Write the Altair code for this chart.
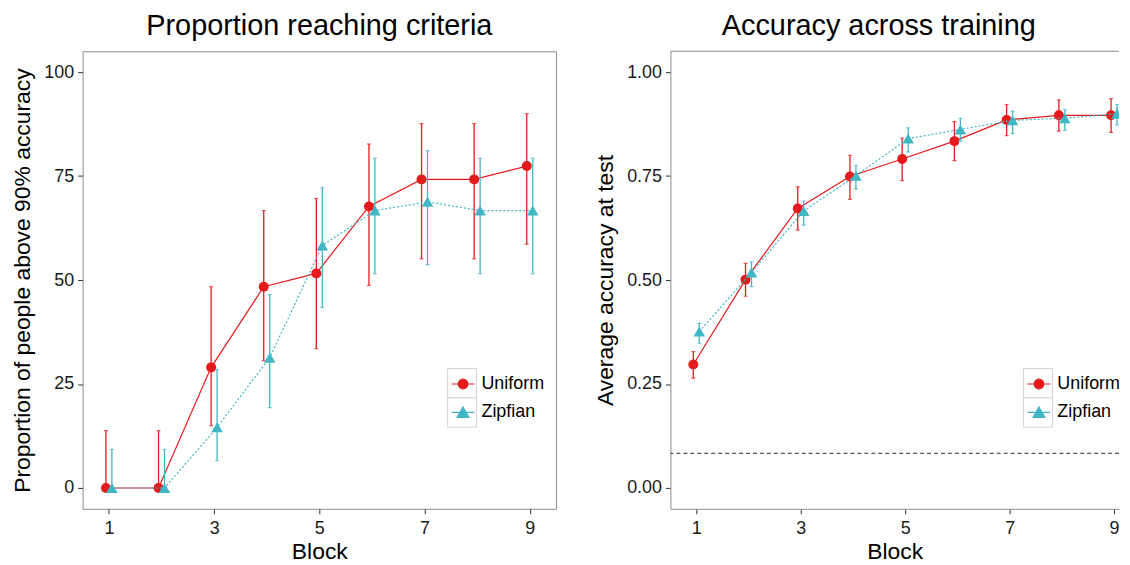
import altair as alt
import pandas as pd

# ---------------- data ----------------
blocks = [1, 2, 3, 4, 5, 6, 7, 8, 9]
series_names = ["Uniform", "Zipfian"]
series_colors = ["#e41a1c", "#41b6c4"]

# Left panel: proportion of people above 90% accuracy
prop_uniform = [0, 0, 29.0, 48.4, 51.6, 67.7, 74.2, 74.2, 77.4]
prop_uniform_lo = [0, 0, 15.0, 30.6, 33.5, 48.7, 55.1, 55.1, 58.6]
prop_uniform_hi = [13.8, 13.8, 48.4, 66.7, 69.6, 82.7, 87.6, 87.6, 90.0]
prop_zipf = [0, 0, 14.6, 31.3, 58.3, 66.7, 68.8, 66.7, 66.7]
prop_zipf_lo = [0, 0, 6.6, 19.3, 43.4, 51.5, 53.7, 51.5, 51.5]
prop_zipf_hi = [9.3, 9.3, 28.5, 46.5, 72.2, 79.3, 81.1, 79.3, 79.3]

# Right panel: average accuracy at test
acc_uniform = [0.297, 0.501, 0.672, 0.749, 0.791, 0.834, 0.885, 0.896, 0.896]
acc_uniform_lo = [0.264, 0.461, 0.620, 0.694, 0.739, 0.787, 0.847, 0.858, 0.855]
acc_uniform_hi = [0.328, 0.540, 0.724, 0.800, 0.841, 0.881, 0.922, 0.933, 0.936]
acc_zipf = [0.376, 0.518, 0.666, 0.751, 0.840, 0.862, 0.884, 0.889, 0.900]
acc_zipf_lo = [0.348, 0.484, 0.632, 0.719, 0.808, 0.834, 0.852, 0.860, 0.873]
acc_zipf_hi = [0.396, 0.544, 0.690, 0.776, 0.866, 0.889, 0.906, 0.910, 0.922]

chance_level = [0.0833]

FONT = "Liberation Sans"
BORDER = "#8c8c8c"
TICK = "#333333"
PH = 460  # plot height


def make_df(vals, lo, hi, name):
    return pd.DataFrame({"block": blocks, "value": vals, "lo": lo, "hi": hi, "series": name})


circ_path = "M-1,0L1,0M-0.42,0A0.42,0.42,0,1,0,0.42,0A0.42,0.42,0,1,0,-0.42,0Z"
tri_path = "M-1,0L1,0M0,-0.46L0.52,0.44L-0.52,0.44Z"


def panel(df_u, df_z, ydomain, yvals, yfmt, ytitle, xdomain,
          legend_x, legend_y, key_x, key_y, bordered, clip):
    xscale = alt.Scale(domain=xdomain, nice=False, zero=False)
    yscale = alt.Scale(domain=ydomain, nice=False, zero=False)
    xaxis = alt.Axis(values=[1, 3, 5, 7, 9], format="d", title="Block", grid=False,
                     domain=not bordered, domainColor=BORDER, domainWidth=1,
                     tickColor=TICK, tickSize=5, tickWidth=1,
                     labelFontSize=18, labelFont=FONT, labelColor="#1a1a1a", labelPadding=6,
                     titleFontSize=23, titleFont=FONT, titleFontWeight="normal",
                     titleColor="#000000", titlePadding=3)
    yaxis = alt.Axis(values=yvals, format=yfmt, title=ytitle, grid=False,
                     domain=not bordered, domainColor=BORDER, domainWidth=1,
                     tickColor=TICK, tickSize=5, tickWidth=1,
                     labelFontSize=18, labelFont=FONT, labelColor="#1a1a1a", labelPadding=4,
                     titleFontSize=23, titleFont=FONT, titleFontWeight="normal",
                     titleColor="#000000", titlePadding=9)
    X = alt.X("block:Q", scale=xscale, axis=xaxis)
    Y = alt.Y("value:Q", scale=yscale, axis=yaxis)

    layers = []
    # key boxes of legend
    for i in range(2):
        layers.append(
            alt.Chart(pd.DataFrame({"k": [i]})).mark_rect(
                fill="white", stroke="#d4d4d4", strokeWidth=1
            ).encode(
                x=alt.value(key_x), x2=alt.value(key_x + 29),
                y=alt.value(key_y + i * 29.5), y2=alt.value(key_y + (i + 1) * 29.5),
            )
        )
    specs = [
        (df_u, series_colors[0], -3, None, "circle", 100),
        (df_z, series_colors[1], 3, [2, 2], "triangle-up", 135),
    ]
    for d, c, off, dash, shp, sz in specs:
        line_kw = dict(color=c, strokeWidth=1.2, xOffset=off, clip=clip)
        if dash:
            line_kw["strokeDash"] = dash
        base = alt.Chart(d)
        layers.append(base.mark_line(**line_kw).encode(x=X, y=Y))
        layers.append(base.mark_rule(color=c, strokeWidth=1.3, xOffset=off, clip=clip).encode(
            x=X, y=alt.Y("lo:Q", scale=yscale, axis=yaxis), y2="hi:Q"))
        layers.append(base.mark_tick(color=c, orient="horizontal", size=4, thickness=1.2,
                                     xOffset=off, clip=clip).encode(
            x=X, y=alt.Y("lo:Q", scale=yscale, axis=yaxis)))
        layers.append(base.mark_tick(color=c, orient="horizontal", size=4, thickness=1.2,
                                     xOffset=off, clip=clip).encode(
            x=X, y=alt.Y("hi:Q", scale=yscale, axis=yaxis)))
        layers.append(base.mark_point(filled=True, shape=shp, size=sz, color=c, opacity=1,
                                      xOffset=off, clip=clip).encode(x=X, y=Y))

    leg = alt.Legend(orient="none", legendX=legend_x, legendY=legend_y, direction="vertical",
                     title=None, symbolSize=529, symbolStrokeWidth=1.2, symbolOpacity=1,
                     labelFontSize=18, labelFont=FONT, labelColor="#000000", labelOffset=6,
                     rowPadding=6.5, padding=0)
    both = pd.concat([df_u, df_z])
    layers.append(
        alt.Chart(both).mark_point(filled=True, opacity=0, clip=True).encode(
            x=X, y=Y,
            fill=alt.Fill("series:N", scale=alt.Scale(domain=series_names, range=series_colors), legend=leg),
            stroke=alt.Stroke("series:N", scale=alt.Scale(domain=series_names, range=series_colors), legend=leg),
            shape=alt.Shape("series:N", scale=alt.Scale(domain=series_names, range=[circ_path, tri_path]), legend=leg),
        )
    )
    return layers


ttl_kw = dict(fontSize=29, font=FONT, fontWeight="normal", color="#000000",
              anchor="middle", frame="group", offset=10)

# left panel
left_layers = panel(
    make_df(prop_uniform, prop_uniform_lo, prop_uniform_hi, "Uniform"),
    make_df(prop_zipf, prop_zipf_lo, prop_zipf_hi, "Zipfian"),
    [-5, 105], [0, 25, 50, 75, 100], "d", "Proportion of people above 90% accuracy",
    [0.5, 9.5], 370, 322, 367, 319, True, False)
left = alt.layer(*left_layers).properties(
    width=476, height=PH,
    title=alt.Title("Proportion reaching criteria", **ttl_kw),
    view=alt.ViewBackground(stroke=BORDER, strokeWidth=1),
)

# right panel (cut at the right edge like the reference)
RW = 451
right_layers = panel(
    make_df(acc_uniform, acc_uniform_lo, acc_uniform_hi, "Uniform"),
    make_df(acc_zipf, acc_zipf_lo, acc_zipf_hi, "Zipfian"),
    [-0.05, 1.05], [0, 0.25, 0.5, 0.75, 1.0], ".2f", "Average accuracy at test",
    [0.505, 9.095], 358, 322, 355, 319, False, True)
chance = alt.Chart(pd.DataFrame({"chance": chance_level})).mark_rule(
    color="#555555", strokeWidth=1.2, strokeDash=[4, 3]
).encode(y=alt.Y("chance:Q", scale=alt.Scale(domain=[-0.05, 1.05], nice=False, zero=False)))
top_border = alt.Chart(pd.DataFrame({"k": [0]})).mark_rule(color=BORDER, strokeWidth=1).encode(
    x=alt.value(0), x2=alt.value(RW), y=alt.value(0))
right = alt.layer(right_layers[0], right_layers[1], chance, *right_layers[2:], top_border).properties(
    width=RW, height=PH,
    title=alt.Title("Accuracy across training", dx=-16, **ttl_kw),
    view=alt.ViewBackground(stroke="transparent"),
)

chart = alt.hconcat(left, right, spacing=37).resolve_scale(
    fill="independent", stroke="independent", shape="independent"
).resolve_legend(
    fill="independent", stroke="independent", shape="independent"
).properties(
    padding={"left": 3, "top": 2, "right": 0, "bottom": 0}
).configure(font=FONT).configure_view(stroke="transparent")

chart.save("out.html", embed_options={"renderer": "svg", "actions": False})
